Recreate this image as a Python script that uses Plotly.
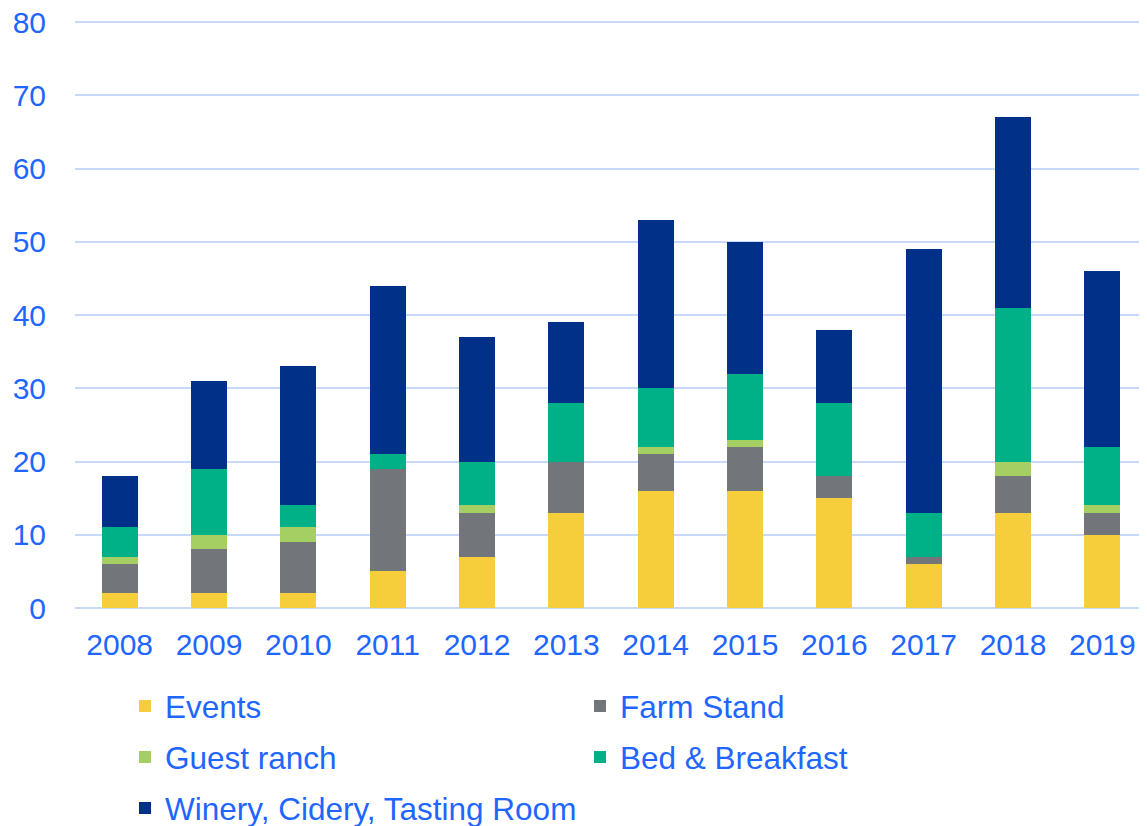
import plotly.graph_objects as go

years = ["2008", "2009", "2010", "2011", "2012", "2013", "2014", "2015", "2016", "2017", "2018", "2019"]
events = [2, 2, 2, 5, 7, 13, 16, 16, 15, 6, 13, 10]
farm_stand = [4, 6, 7, 14, 6, 7, 5, 6, 3, 1, 5, 3]
guest_ranch = [1, 2, 2, 0, 1, 0, 1, 1, 0, 0, 2, 1]
bed_breakfast = [4, 9, 3, 2, 6, 8, 8, 9, 10, 6, 21, 8]
winery = [7, 12, 19, 23, 17, 11, 23, 18, 10, 36, 26, 24]
y_ticks = [0, 10, 20, 30, 40, 50, 60, 70, 80]

TXT = "#1F66FF"
FONT = "Liberation Sans, Arial, sans-serif"

# page body has an 8px margin; figure is sized to fill the rest of the window
W, H, OFF = 1139, 818, 8

series = [
    ("Events", events, "#F6CE3C", "legend"),
    ("Farm Stand", farm_stand, "#727579", "legend"),
    ("Guest ranch", guest_ranch, "#A5CF62", "legend2"),
    ("Bed & Breakfast", bed_breakfast, "#00B087", "legend2"),
    ("Winery, Cidery, Tasting Room", winery, "#003088", "legend3"),
]

fig = go.Figure()
for name, vals, col, lg in series:
    fig.add_trace(go.Bar(x=years, y=vals, name=name, marker=dict(color=col, line=dict(width=0)),
                         legend=lg))

leg_common = dict(orientation="h", xref="container", yref="container", x=(125 - OFF) / W,
                  xanchor="left", yanchor="middle", font=dict(family=FONT, size=31.5, color=TXT),
                  entrywidth=410, bgcolor="rgba(0,0,0,0)", traceorder="normal")

fig.update_layout(
    barmode="stack",
    bargap=0.6,
    width=W, height=H,
    margin=dict(l=75 - OFF, r=0, t=21 - OFF, b=H - (608 - OFF), autoexpand=False),
    plot_bgcolor="white", paper_bgcolor="white",
    font=dict(family=FONT, size=30, color=TXT),
    legend=dict(y=1 - (706 - OFF) / H, **leg_common),
    legend2=dict(y=1 - (757 - OFF) / H, **leg_common),
    legend3=dict(y=1 - (808 - OFF) / H, **leg_common),
    xaxis=dict(tickfont=dict(family=FONT, size=30, color=TXT), showgrid=False, showline=False,
               ticks="", tickangle=0, ticklabelstandoff=16),
    yaxis=dict(range=[0, 80.14], tickvals=y_ticks, tickfont=dict(family=FONT, size=30, color=TXT),
               gridcolor="#C8D8F8", gridwidth=2, zeroline=True, zerolinecolor="#C8D8F8",
               zerolinewidth=2, showline=False, ticks="", ticklabelstandoff=28,
               ticklabeloverflow="allow"),
)

fig.write_html("out.html")
